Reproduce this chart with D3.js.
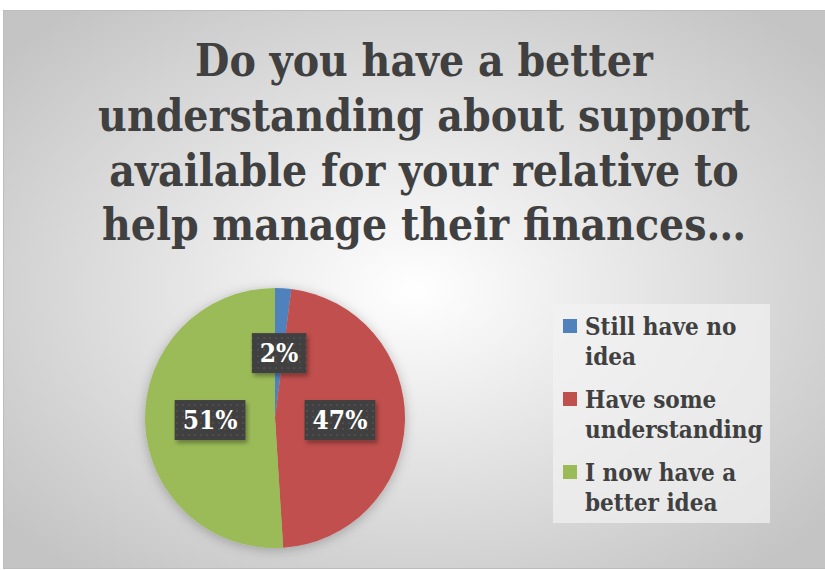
<!DOCTYPE html>
<html>
<head>
<meta charset="utf-8">
<script src="https://cdn.jsdelivr.net/npm/d3@7"></script>
<style>
  body { margin: 0; background: #fff; }
  text { font-family: "DejaVu Serif Condensed", "DejaVu Serif", serif; font-weight: bold; }
</style>
</head>
<body>
<svg width="825" height="570"></svg>
<script>
// chart data
var categories = ["Still have no idea", "Have some understanding", "I now have a better idea"];
var values = [2, 47, 51];
var colors = ["#4f81bd", "#c0504d", "#9bbb59"];
var titleLines = ["Do you have a better", "understanding about support", "available for your relative to", "help manage their finances\u2026"];
var legendLines = [["Still have no", "idea"], ["Have some", "understanding"], ["I now have a", "better idea"]];

var svg = d3.select("svg");
var defs = svg.append("defs");

var bg = defs.append("radialGradient").attr("id", "bg")
    .attr("cx", "50%").attr("cy", "50%").attr("r", "65%");
bg.append("stop").attr("offset", "0%").attr("stop-color", "#ffffff");
bg.append("stop").attr("offset", "100%").attr("stop-color", "#c4c4c4");

var sh = defs.append("filter").attr("id", "shadow")
    .attr("x", "-20%").attr("y", "-20%").attr("width", "140%").attr("height", "140%");
sh.append("feDropShadow").attr("dx", 0).attr("dy", 2).attr("stdDeviation", 6)
    .attr("flood-color", "#000").attr("flood-opacity", 0.25);

var lsh = defs.append("filter").attr("id", "lshadow")
    .attr("x", "-20%").attr("y", "-20%").attr("width", "140%").attr("height", "150%");
lsh.append("feDropShadow").attr("dx", 2).attr("dy", 3).attr("stdDeviation", 2)
    .attr("flood-color", "#000").attr("flood-opacity", 0.35);

var dots = defs.append("pattern").attr("id", "dots").attr("patternUnits", "userSpaceOnUse")
    .attr("width", 6).attr("height", 6);
dots.append("rect").attr("width", 6).attr("height", 6).attr("fill", "#3f3f3f");
dots.append("circle").attr("cx", 3).attr("cy", 3).attr("r", 0.9).attr("fill", "#565656");

// frame
svg.append("rect").attr("x", 3.5).attr("y", 10.5).attr("width", 822).attr("height", 558)
    .attr("fill", "url(#bg)").attr("stroke", "#bdbdbd");

// title
svg.append("g").selectAll("text")
    .data(titleLines)
    .enter().append("text")
    .attr("x", 424)
    .attr("y", function(d, i) { return 76 + i * 54.8; })
    .attr("text-anchor", "middle")
    .attr("font-size", 44)
    .attr("fill", "#404040")
    .text(function(d) { return d; });

// pie
var cx = 275, cy = 418, r = 130;
var pie = d3.pie().sort(null).value(function(d) { return d; });
var arc = d3.arc().innerRadius(0).outerRadius(r);
var arcs = pie(values);

var g = svg.append("g").attr("transform", "translate(" + cx + "," + cy + ")");
g.append("g").attr("filter", "url(#shadow)")
  .selectAll("path")
    .data(arcs)
    .enter().append("path")
    .attr("d", arc)
    .attr("fill", function(d, i) { return colors[i]; });

var lab = g.selectAll(".lab")
    .data(arcs)
    .enter().append("g")
    .attr("class", "lab")
    .attr("transform", function(d) { var c = arc.centroid(d); return "translate(" + c[0] + "," + c[1] + ")"; });

lab.append("text")
    .attr("text-anchor", "middle")
    .attr("dy", "0.35em")
    .attr("font-size", 26)
    .attr("fill", "#fff")
    .text(function(d) { return d.value + "%"; })
    .each(function() {
      var b = this.getBBox();
      d3.select(this.parentNode).insert("rect", "text")
        .attr("x", b.x - 8).attr("y", -20)
        .attr("width", b.width + 16).attr("height", 40)
        .attr("fill", "url(#dots)")
        .attr("filter", "url(#lshadow)");
    });

// legend
var leg = svg.append("g");
leg.append("rect").attr("x", 553).attr("y", 304).attr("width", 217).attr("height", 219)
    .attr("fill", "#f2f2f2").attr("opacity", 0.7);
var item = leg.selectAll(".item")
    .data(legendLines)
    .enter().append("g")
    .attr("class", "item")
    .attr("transform", function(d, i) { return "translate(563," + (335 + i * 73) + ")"; });
item.append("rect").attr("x", 0).attr("y", -16).attr("width", 14).attr("height", 14)
    .attr("fill", function(d, i) { return colors[i]; });
item.selectAll("text")
    .data(function(d) { return d; })
    .enter().append("text")
    .attr("x", 22)
    .attr("y", function(d, j) { return j * 29.5; })
    .attr("font-size", 24)
    .attr("fill", "#404040")
    .text(function(d) { return d; });
</script>
</body>
</html>
